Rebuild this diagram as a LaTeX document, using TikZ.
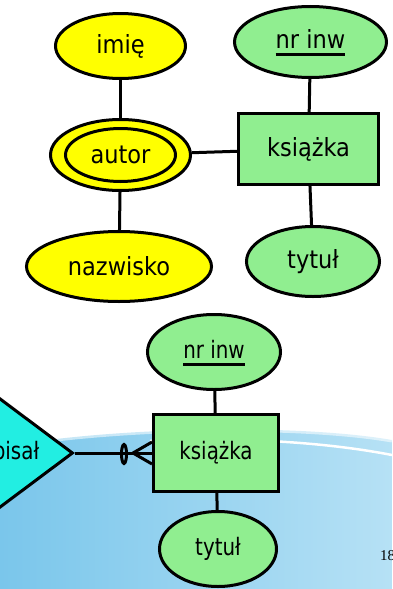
\documentclass[tikz,border=0pt]{standalone}
\usepackage{fontspec}
\setmainfont{DejaVu Sans Condensed}
\newfontfamily\lowfont[FakeStretch=0.92]{DejaVu Sans Condensed}
\newfontfamily\numfont{Liberation Serif}
\usetikzlibrary{shapes.geometric}
\definecolor{attrYellow}{RGB}{255,255,0}
\definecolor{entGreen}{RGB}{144,238,144}
\definecolor{relCyan}{RGB}{34,238,226}
\definecolor{seaLeft}{RGB}{122,198,235}
\definecolor{seaRight}{RGB}{182,225,245}

\begin{document}
\begin{tikzpicture}[x=1pt,y=-1pt,
  er/.style={draw=black, line width=3pt},
  attr/.style={er, ellipse, inner sep=0pt},
  ent/.style={er, rectangle, inner sep=0pt},
  big/.style={font=\fontsize{25}{30}\selectfont},
  small/.style={font=\lowfont\fontsize{24}{28}\selectfont},
  link/.style={line width=3pt},
  lbl/.style={inner sep=0pt}]
\useasboundingbox (0,0) rectangle (392,589);

% slide background wave
\shade[left color=seaLeft, right color=seaRight]
  (0,447) .. controls (120,426) and (300,424) .. (392,440)
  -- (392,589) -- (0,589) -- cycle;
\draw[white, opacity=0.55, line width=5pt]
  (0,447) .. controls (120,426) and (300,424) .. (392,440);
\draw[white, line width=2.5pt]
  (150,441) .. controls (230,437) and (320,441) .. (392,455);

% ---- upper diagram ----
\node[attr, fill=attrYellow, minimum width=130, minimum height=65, big] (imie) at (120.5,46) {imię};
\node[attr, fill=attrYellow, minimum width=140, minimum height=71] (autor) at (120.5,155) {};
\node[attr, fill=attrYellow, minimum width=110, minimum height=53, big] (autorIn) at (120.5,155) {autor};
\node[attr, fill=attrYellow, minimum width=185, minimum height=70, big] (nazwisko) at (119,266.5) {nazwisko};
\node[attr, fill=entGreen, minimum width=152, minimum height=71] (nrA) at (310.5,42) {};
\node[lbl, big] (nrAtxt) at (310.5,39) {nr inw};
\node[ent, fill=entGreen, minimum width=140, minimum height=71, big] (ksiazkaA) at (308.5,149) {książka};
\node[attr, fill=entGreen, minimum width=133, minimum height=70, big] (tytulA) at (313,261.5) {tytuł};

\draw[link] ([yshift=-6.5pt]nrAtxt.base west) -- ([yshift=-6.5pt]nrAtxt.base east);
\draw[link] (imie) -- (autor);
\draw[link] (autor) -- (nazwisko);
\draw[link] (autor) -- (ksiazkaA);
\draw[link] (nrA) -- (ksiazkaA);
\draw[link] (ksiazkaA) -- (tytulA);

% ---- lower diagram ----
\node[attr, fill=entGreen, minimum width=133, minimum height=75] (nrB) at (214,352) {};
\node[lbl, small] (nrBtxt) at (214,349) {nr inw};
\node[ent, fill=entGreen, minimum width=125, minimum height=77, small] (ksiazkaB) at (216,453) {książka};
\node[attr, fill=entGreen, minimum width=117, minimum height=75, small] (tytulB) at (218,549) {tytuł};
\node[er, diamond, fill=relCyan, inner sep=0pt, minimum width=156, minimum height=117] (pisal) at (-5,453) {};
\node[lbl, small] (pisalTxt) at (16,453) {pisał};

\draw[link] ([yshift=-6pt]nrBtxt.base west) -- ([yshift=-6pt]nrBtxt.base east);
\draw[link] (nrB) -- (ksiazkaB);
\draw[link] (ksiazkaB) -- (tytulB);
\draw[link] (pisal) -- (ksiazkaB);

% zero-or-many end at the entity
\node[er, ellipse, inner sep=0pt, minimum width=5, minimum height=19] (zero) at (124,454) {};
\coordinate (crow) at (133,453);
\draw[link, line join=round] ([yshift=11pt]ksiazkaB.west) -- (crow) -- ([yshift=-11pt]ksiazkaB.west);

% slide number
\node[anchor=base west, inner sep=0pt, font=\numfont\fontsize{15}{18}\selectfont] (page) at (380,560) {18};
\end{tikzpicture}
\end{document}
